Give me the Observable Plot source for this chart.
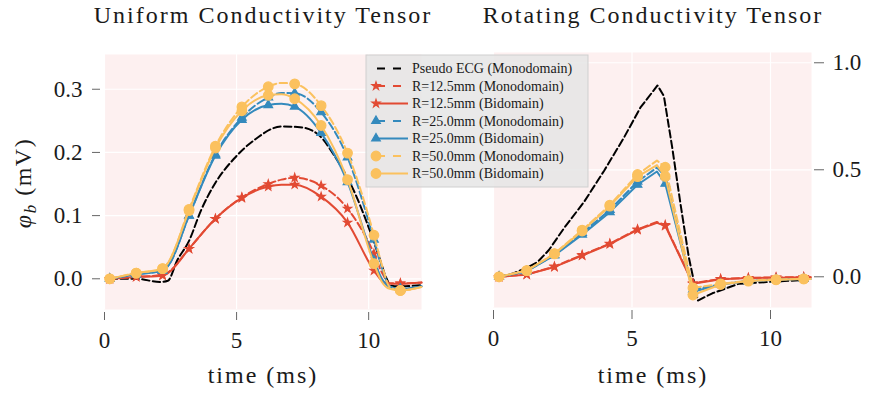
<!DOCTYPE html>
<html>
<head>
<meta charset="utf-8">
<script src="https://cdn.jsdelivr.net/npm/d3@7"></script>
<script src="https://cdn.jsdelivr.net/npm/@observablehq/plot@0.6"></script>
<style>
  html, body { margin: 0; padding: 0; background: #ffffff; }
  #chart { position: relative; width: 870px; height: 394px; overflow: hidden; }
  #chart > * { position: absolute; top: 0; }
</style>
</head>
<body>
<div id="chart"></div>
<script>
// ---------- text ----------
const TITLE_LEFT = "Uniform Conductivity Tensor";
const TITLE_RIGHT = "Rotating Conductivity Tensor";
const X_LABEL = "time (ms)";
const LEGEND_LABELS = [
  "Pseudo ECG (Monodomain)",
  "R=12.5mm (Monodomain)",
  "R=12.5mm (Bidomain)",
  "R=25.0mm (Monodomain)",
  "R=25.0mm (Bidomain)",
  "R=50.0mm (Monodomain)",
  "R=50.0mm (Bidomain)"
];

// ---------- ticks ----------
const X_TICKS_L = [0, 5, 10];
const Y_TICKS_L = [0.0, 0.1, 0.2, 0.3];
const X_TICKS_R = [0, 5, 10];
const Y_TICKS_R = [0.0, 0.5, 1.0];
const MARK_T = [0.2, 1.2, 2.2, 3.2, 4.2, 5.2, 6.2, 7.2, 8.2, 9.2, 10.2, 11.2];

// ---------- left panel (uniform tensor) ----------
const L_ECG_T = [0.2, 1.2, 2.1, 2.4, 2.75, 3.2, 3.65, 4.2, 4.9, 5.65, 6.7, 7.4, 8.1, 8.7, 9.55, 9.95, 10.4, 10.65, 10.85, 11.2, 12.0];
const L_ECG_V = [0, 0, -0.005, -0.003, 0.029, 0.06, 0.108, 0.152, 0.19, 0.219, 0.241, 0.24, 0.228, 0.195, 0.129, 0.087, 0.034, 0.003, -0.011, -0.012, -0.010];

const T_L = [0.2, 1.2, 2.2, 2.4, 3.2, 4.2, 5.2, 6.2, 6.7, 7.2, 8.2, 9.2, 10.2, 10.5, 10.8, 11.2, 12.0];
const L_R125_MONO = [0, 0.003, 0.006, 0.010, 0.0475, 0.095, 0.129, 0.150, 0.157, 0.160, 0.1476, 0.111, 0.040, 0.010, -0.007, -0.007, -0.006];
const L_R125_BI   = [0, 0.003, 0.005, 0.009, 0.0475, 0.095, 0.128, 0.146, 0.149, 0.149, 0.130, 0.089, 0.013, -0.003, -0.008, -0.008, -0.006];
const L_R25_MONO  = [0, 0.007, 0.013, 0.020, 0.100, 0.197, 0.255, 0.287, 0.294, 0.2937, 0.2636, 0.192, 0.062, 0.018, -0.012, -0.016, -0.012];
const L_R25_BI    = [0, 0.007, 0.013, 0.020, 0.100, 0.195, 0.2516, 0.275, 0.277, 0.2726, 0.231, 0.153, 0.029, 0.000, -0.013, -0.016, -0.012];
const L_R50_MONO  = [0, 0.009, 0.016, 0.025, 0.110, 0.210, 0.272, 0.304, 0.310, 0.3085, 0.274, 0.199, 0.069, 0.022, -0.013, -0.0185, -0.013];
const L_R50_BI    = [0, 0.009, 0.016, 0.025, 0.108, 0.207, 0.266, 0.2905, 0.292, 0.285, 0.2426, 0.157, 0.024, -0.005, -0.016, -0.0185, -0.013];

// ---------- right panel (rotating tensor) ----------
const R_ECG_T = [0.2, 0.7, 1.2, 1.6, 2.0, 2.55, 3.27, 4.0, 4.7, 5.3, 5.92, 6.15, 6.45, 6.75, 7.05, 7.38, 7.9, 8.85, 10.2, 11.35];
const R_ECG_V = [0, 0.015, 0.042, 0.07, 0.125, 0.228, 0.35, 0.497, 0.648, 0.79, 0.894, 0.845, 0.606, 0.341, 0.092, -0.111, -0.077, -0.033, -0.022, -0.014];

const T_R = [0.2, 1.2, 2.2, 3.2, 4.2, 5.2, 5.9, 6.2, 7.2, 8.2, 9.2, 10.2, 11.2, 11.45];
const R_R125_MONO = [0, 0.011, 0.048, 0.102, 0.155, 0.222, 0.256, 0.242, -0.030, -0.010, -0.005, -0.003, -0.002, -0.002];
const R_R125_BI   = [0, 0.010, 0.046, 0.099, 0.153, 0.219, 0.252, 0.238, -0.033, -0.012, -0.006, -0.004, -0.002, -0.002];
const R_R25_MONO  = [0, 0.026, 0.102, 0.205, 0.312, 0.445, 0.510, 0.470, -0.060, -0.035, -0.019, -0.013, -0.010, -0.010];
const R_R25_BI    = [0, 0.026, 0.100, 0.197, 0.302, 0.430, 0.492, 0.435, -0.070, -0.036, -0.020, -0.014, -0.010, -0.010];
const R_R50_MONO  = [0, 0.029, 0.108, 0.218, 0.335, 0.478, 0.543, 0.512, -0.052, -0.033, -0.018, -0.013, -0.010, -0.010];
const R_R50_BI    = [0, 0.029, 0.107, 0.214, 0.330, 0.468, 0.522, 0.469, -0.085, -0.036, -0.020, -0.014, -0.010, -0.010];

// ---------- styles ----------
const RED = "#E24A33", BLUE = "#348ABD", YELLOW = "#FBC15E", BLACK = "#000000";
const BG = "#FDF0F0";
const DASH = "7.4,3.4";
const FONT = "Liberation Serif";
const STYLES = [
  {color: BLACK, dash: true, symbol: null, r: 0},
  {color: RED, dash: true, symbol: "star", r: 2.5},
  {color: RED, dash: false, symbol: "star", r: 2.5},
  {color: BLUE, dash: true, symbol: "triangle", r: 3.2},
  {color: BLUE, dash: false, symbol: "triangle", r: 3.2},
  {color: YELLOW, dash: true, symbol: "circle", r: 4.8},
  {color: YELLOW, dash: false, symbol: "circle", r: 4.8}
];

const rows = (ts, vs) => ts.map((t, i) => ({t, v: vs[i]}));
const isMark = t => MARK_T.some(m => Math.abs(m - t) < 1e-9);

function seriesMarks(ts, vs, st, curve) {
  const d = rows(ts, vs);
  const lineOpts = {x: "t", y: "v", stroke: st.color, strokeWidth: 2, curve};
  if (st.dash) lineOpts.strokeDasharray = DASH;
  const out = [Plot.line(d, lineOpts)];
  if (st.symbol) {
    out.push(Plot.dot(d.filter(p => isMark(p.t)), {
      x: "t", y: "v", symbol: st.symbol, r: st.r, fill: st.color, stroke: st.color, strokeWidth: 1.2
    }));
  }
  return out;
}

const leftSeries = [
  [L_ECG_T, L_ECG_V], [T_L, L_R125_MONO], [T_L, L_R125_BI], [T_L, L_R25_MONO],
  [T_L, L_R25_BI], [T_L, L_R50_MONO], [T_L, L_R50_BI]
];
const rightSeries = [
  [R_ECG_T, R_ECG_V], [T_R, R_R125_MONO], [T_R, R_R125_BI], [T_R, R_R25_MONO],
  [T_R, R_R25_BI], [T_R, R_R50_MONO], [T_R, R_R50_BI]
];

const chart = document.getElementById("chart");

const left = Plot.plot({
  width: 440, height: 394,
  marginLeft: 104, marginRight: 19, marginTop: 54, marginBottom: 85,
  x: {domain: [0, 12]},
  y: {domain: [-0.0486, 0.355]},
  style: {fontFamily: FONT, fontSize: "23px", color: "#1a1a1a", background: "transparent"},
  marks: [
    Plot.frame({fill: BG, stroke: null}),
    Plot.gridX({ticks: X_TICKS_L, stroke: "white", strokeOpacity: 1, strokeWidth: 1.2}),
    Plot.gridY({ticks: Y_TICKS_L, stroke: "white", strokeOpacity: 1, strokeWidth: 1.2}),
    Plot.axisX({ticks: X_TICKS_L, tickSize: 8, tickPadding: 11, dy: 3, label: null, stroke: "#666", fill: "#1a1a1a", fontFamily: FONT}),
    Plot.axisY({ticks: Y_TICKS_L, tickFormat: ".1f", tickSize: 8, tickPadding: 10, dx: -4, label: null, stroke: "#666", fill: "#1a1a1a", fontFamily: FONT}),
    ...leftSeries.flatMap(([ts, vs], i) => seriesMarks(ts, vs, STYLES[i], "monotone-x"))
  ]
});
left.style.left = "0px";
chart.appendChild(left);

const right = Plot.plot({
  width: 430, height: 394,
  marginLeft: 53, marginRight: 59, marginTop: 52, marginBottom: 87,
  x: {domain: [0, 11.48]},
  y: {domain: [-0.1435, 1.048]},
  style: {fontFamily: FONT, fontSize: "23px", color: "#1a1a1a", background: "transparent"},
  marks: [
    Plot.frame({fill: BG, stroke: null}),
    Plot.gridX({ticks: X_TICKS_R, stroke: "white", strokeOpacity: 1, strokeWidth: 1.2}),
    Plot.gridY({ticks: Y_TICKS_R, stroke: "white", strokeOpacity: 1, strokeWidth: 1.2}),
    Plot.axisX({ticks: X_TICKS_R, tickSize: 9, tickPadding: 10, dy: 3, label: null, stroke: "#666", fill: "#1a1a1a", fontFamily: FONT}),
    Plot.axisY({anchor: "right", ticks: Y_TICKS_R, tickFormat: ".1f", tickSize: 10, tickPadding: 9, dx: 2, label: null, stroke: "#666", fill: "#1a1a1a", fontFamily: FONT}),
    ...rightSeries.flatMap(([ts, vs], i) => seriesMarks(ts, vs, STYLES[i], "linear"))
  ]
});
right.style.left = "440px";
chart.appendChild(right);

// ---------- overlay: titles, axis labels, legend ----------
const ov = d3.select(chart).append("svg")
  .attr("width", 870).attr("height", 394)
  .style("left", "0px").style("pointer-events", "none");

function txt(x, y, s, size, spacing, anchor) {
  return ov.append("text").attr("x", x).attr("y", y)
    .attr("text-anchor", anchor || "middle")
    .attr("font-family", FONT)
    .attr("font-size", size).attr("letter-spacing", spacing || 0)
    .attr("fill", "#1a1a1a").text(s);
}
txt(263, 23, TITLE_LEFT, 24, 2);
txt(653, 23, TITLE_RIGHT, 24, 2);
txt(263, 383, X_LABEL, 24, 2);
txt(653, 383, X_LABEL, 24, 2);

const yl = ov.append("text")
  .attr("transform", "translate(31,183) rotate(-90)")
  .attr("font-family", FONT)
  .attr("text-anchor", "middle").attr("font-size", 24).attr("fill", "#1a1a1a")
  .attr("letter-spacing", 1.5);
yl.append("tspan").attr("font-style", "italic").text("φ");
yl.append("tspan").attr("font-style", "italic").attr("font-size", 17).attr("dy", 5).text("b");
yl.append("tspan").attr("dy", -5).text(" (mV)");

// legend
const lg = ov.append("g");
lg.append("rect").attr("x", 366).attr("y", 55).attr("width", 222).attr("height", 132)
  .attr("fill", "#E5E5E5").attr("fill-opacity", 0.85).attr("stroke", "#cfcfcf").attr("stroke-width", 1);
const symTypes = {star: d3.symbolStar, triangle: d3.symbolTriangle, circle: d3.symbolCircle};
LEGEND_LABELS.forEach((label, i) => {
  const st = STYLES[i];
  const cy = 68.5 + i * 17.5;
  const ln = lg.append("line").attr("x1", 375).attr("x2", 408).attr("y1", cy).attr("y2", cy)
    .attr("stroke", st.color).attr("stroke-width", 2);
  if (st.dash) ln.attr("stroke-dasharray", "8,8").attr("x1", 377).attr("x2", 402);
  if (st.symbol) {
    lg.append("path").attr("transform", `translate(376,${cy})`)
      .attr("d", d3.symbol(symTypes[st.symbol], Math.PI * st.r * st.r)())
      .attr("fill", st.color).attr("stroke", st.color).attr("stroke-width", 1.2);
  }
  lg.append("text").attr("x", 412).attr("y", cy + 4.5)
    .attr("font-family", FONT).attr("font-size", 14)
    .attr("fill", "#1a1a1a").text(label);
});
</script>
</body>
</html>
